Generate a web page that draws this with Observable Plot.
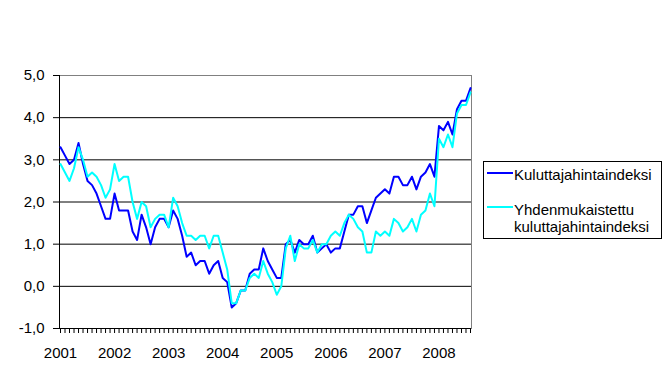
<!DOCTYPE html>
<html><head><meta charset="utf-8">
<script src="https://cdn.jsdelivr.net/npm/d3@7"></script>
<script src="https://cdn.jsdelivr.net/npm/@observablehq/plot@0.6"></script>
<style>
body{margin:0;background:#fff;}
#chart{position:relative;width:665px;height:379px;font-family:"Liberation Sans",Arial,sans-serif;}
#legend{position:absolute;left:483px;top:161px;width:179px;height:78px;box-sizing:border-box;border:1px solid #000;background:#fff;font-size:15px;line-height:17px;color:#000;}
.sw{position:absolute;left:3px;width:26px;height:2px;}
.lt{position:absolute;left:30px;width:146px;white-space:normal;}
</style></head>
<body><div id="chart"></div>
<script>
const years = ["2001","2002","2003","2004","2005","2006","2007","2008"];
const yTicks = [-1, 0, 1, 2, 3, 4, 5];
const seriesNames = ["Kuluttajahintaindeksi", "Yhdenmukaistettu kuluttajahintaindeksi"];
const seriesColors = ["#0000ff", "#00ffff"];

// Kuluttajahintaindeksi, monthly from Jan 2001 to Aug 2008
const kuluttaja = [
  3.3, 3.1, 2.9, 3.0, 3.4, 2.9, 2.5, 2.4, 2.2, 1.9, 1.6, 1.6,
  2.2, 1.8, 1.8, 1.8, 1.3, 1.1, 1.7, 1.4, 1.0, 1.4, 1.6, 1.6,
  1.4, 1.8, 1.6, 1.2, 0.7, 0.8, 0.5, 0.6, 0.6, 0.3, 0.5, 0.6,
  0.2, 0.1, -0.5, -0.4, -0.1, -0.1, 0.3, 0.4, 0.4, 0.9, 0.6, 0.4,
  0.2, 0.2, 1.0, 1.1, 0.8, 1.1, 1.0, 1.0, 1.2, 0.8, 0.9, 1.0,
  0.8, 0.9, 0.9, 1.3, 1.7, 1.7, 1.9, 1.9, 1.5, 1.8, 2.1, 2.2,
  2.3, 2.2, 2.6, 2.6, 2.4, 2.4, 2.6, 2.3, 2.6, 2.7, 2.9, 2.6,
  3.8, 3.7, 3.9, 3.6, 4.2, 4.4, 4.4, 4.7
];
// Yhdenmukaistettu kuluttajahintaindeksi
const yhdenmukaistettu = [
  2.9, 2.7, 2.5, 2.8, 3.3, 3.0, 2.6, 2.7, 2.6, 2.4, 2.1, 2.3,
  2.9, 2.5, 2.6, 2.6, 2.0, 1.6, 2.0, 1.9, 1.4, 1.6, 1.7, 1.7,
  1.4, 2.1, 1.9, 1.5, 1.2, 1.2, 1.1, 1.2, 1.2, 0.9, 1.2, 1.2,
  0.8, 0.4, -0.4, -0.4, -0.1, -0.1, 0.2, 0.3, 0.2, 0.6, 0.3, 0.1,
  -0.2, 0.0, 0.9, 1.2, 0.6, 1.0, 0.9, 0.9, 1.1, 0.8, 1.0, 1.0,
  1.2, 1.3, 1.2, 1.5, 1.7, 1.6, 1.4, 1.3, 0.8, 0.8, 1.3, 1.2,
  1.3, 1.2, 1.6, 1.5, 1.3, 1.4, 1.6, 1.3, 1.7, 1.8, 2.2, 1.9,
  3.5, 3.3, 3.6, 3.3, 4.1, 4.3, 4.3, 4.6
];

const n = kuluttaja.length;
const monthIdx = d3.range(n);
const yearIdx = years.map((y, k) => k * 12);
const rows1 = kuluttaja.map((v, i) => ({i, v}));
const rows2 = yhdenmukaistettu.map((v, i) => ({i, v}));

const plot = Plot.plot({
  width: 665, height: 379,
  marginLeft: 59, marginRight: 194, marginTop: 75, marginBottom: 51,
  style: {fontFamily: "Liberation Sans, Arial, sans-serif", fontSize: "15px", color: "#000", background: "#fff"},
  x: {type: "linear", domain: [0, n - 1], range: [60, 470]},
  y: {domain: [-1, 5]},
  marks: [
    Plot.frame({stroke: "#808080"}),
    Plot.ruleY(yTicks.filter(t => t > -1 && t < 5), {stroke: "#000"}),
    Plot.ruleY([yTicks[0]], {stroke: "#000"}),
    Plot.ruleX([0], {dx: -1, stroke: "#000"}),
    Plot.line(rows1, {x: "i", y: "v", stroke: seriesColors[0], strokeWidth: 2}),
    Plot.line(rows2, {x: "i", y: "v", stroke: seriesColors[1], strokeWidth: 2}),
    Plot.axisY({ticks: yTicks, tickFormat: d => d.toFixed(1).replace(".", ","), tickSize: 6, tickPadding: 9, label: null, fontSize: 15}),
    Plot.axisX({ticks: monthIdx, tickSize: 5, tickFormat: () => "", label: null}),
    Plot.axisX({ticks: yearIdx, tickSize: 0, tickPadding: 19, tickFormat: i => years[Math.round(i / 12)], label: null, fontSize: 15})
  ]
});

const chart = document.getElementById("chart");
chart.appendChild(plot);

const legend = document.createElement("div");
legend.id = "legend";
const swTops = [10, 44];
const txtTops = [3.5, 38.5];
seriesNames.forEach((name, k) => {
  const sw = document.createElement("div");
  sw.className = "sw";
  sw.style.top = swTops[k] + "px";
  sw.style.background = seriesColors[k];
  legend.appendChild(sw);
  const t = document.createElement("div");
  t.className = "lt";
  t.style.top = txtTops[k] + "px";
  t.textContent = name;
  legend.appendChild(t);
});
chart.appendChild(legend);
</script>
</body></html>
